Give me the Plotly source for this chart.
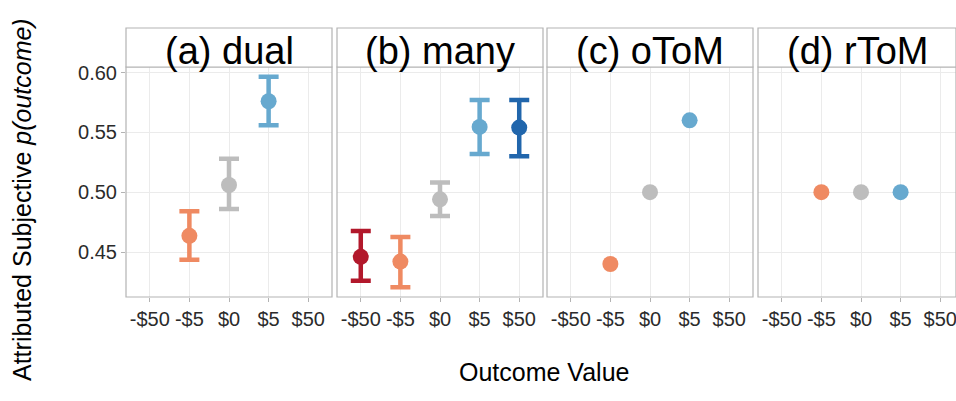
import plotly.graph_objects as go

categories = ["-$50", "-$5", "$0", "$5", "$50"]
cat_colors = {"-$50": "#B2182B", "-$5": "#EF8A62", "$0": "#BDBDBD", "$5": "#67A9CF", "$50": "#2166AC"}

panel_titles = ["(a) dual", "(b) many", "(c) oToM", "(d) rToM"]

dual_x = ["-$5", "$0", "$5"]
dual_y = [0.4635, 0.5060, 0.5760]
dual_lo = [0.4435, 0.4860, 0.5560]
dual_hi = [0.4840, 0.5280, 0.5965]

many_x = ["-$50", "-$5", "$0", "$5", "$50"]
many_y = [0.4460, 0.4420, 0.4940, 0.5545, 0.5540]
many_lo = [0.4260, 0.4205, 0.4800, 0.5320, 0.5300]
many_hi = [0.4675, 0.4625, 0.5080, 0.5770, 0.5770]

otom_x = ["-$5", "$0", "$5"]
otom_y = [0.44, 0.50, 0.56]

rtom_x = ["-$5", "$0", "$5"]
rtom_y = [0.50, 0.50, 0.50]

y_ticks = [0.45, 0.50, 0.55, 0.60]
y_ticktext = ["0.45", "0.50", "0.55", "0.60"]

FONT = "Liberation Sans, Arial, sans-serif"
W, H = 956, 401
ML, MT, MB = 126, 67, 104
PW = W - ML
PH = H - MT - MB

# panel pixel bounds relative to plot-area left edge
panels_px = [(0, 206), (211, 417), (421, 627), (632, 830)]
unit = 206 / 5.2

fig = go.Figure()

def add_series(idx, xs, ys, lo=None, hi=None):
    ax = "" if idx == 0 else str(idx + 1)
    for i, (x, y) in enumerate(zip(xs, ys)):
        c = cat_colors[x]
        err = None
        if lo is not None:
            err = dict(type="data", symmetric=False, array=[hi[i] - y], arrayminus=[y - lo[i]],
                       color=c, thickness=4.5, width=10)
        fig.add_trace(go.Scatter(x=[x], y=[y], mode="markers",
                                 marker=dict(size=16, color=c, line=dict(width=0)),
                                 error_y=err, showlegend=False,
                                 xaxis="x" + ax, yaxis="y" + ax, cliponaxis=False))

add_series(0, dual_x, dual_y, dual_lo, dual_hi)
add_series(1, many_x, many_y, many_lo, many_hi)
add_series(2, otom_x, otom_y)
add_series(3, rtom_x, rtom_y)

yr = [0.4124, 0.6046]
border = "#B3B3B3"
grid = "#EBEBEB"
layout = dict(width=W, height=H, margin=dict(l=ML, r=0, t=MT, b=MB),
              paper_bgcolor="white", plot_bgcolor="white", showlegend=False,
              font=dict(family=FONT, color="#333333"))
shapes = []
annotations = []
for i, (a, b) in enumerate(panels_px):
    ax = "" if i == 0 else str(i + 1)
    xr = [-0.6, -0.6 + (b - a) / unit]
    layout["xaxis" + ax] = dict(domain=[a / PW, b / PW], type="category", categoryorder="array",
                                categoryarray=categories, range=xr, showgrid=True, gridcolor=grid,
                                gridwidth=1, zeroline=False, showline=False, ticks="outside",
                                ticklen=4, tickcolor=border, tickwidth=1,
                                tickfont=dict(size=20, color="#2b2b2b", family=FONT),
                                anchor="y" + ax, fixedrange=True)
    layout["yaxis" + ax] = dict(domain=[0, 1], range=yr, tickvals=y_ticks, ticktext=y_ticktext,
                                showticklabels=(i == 0), showgrid=True, gridcolor=grid, gridwidth=1,
                                zeroline=False, showline=False,
                                ticks="outside" if i == 0 else "", ticklen=4, tickcolor=border,
                                tickfont=dict(size=20, color="#2b2b2b", family=FONT),
                                anchor="x" + ax, fixedrange=True)
    x0, x1 = a / PW, b / PW
    # panel border
    shapes.append(dict(type="rect", xref="paper", yref="paper", x0=x0, x1=x1, y0=0, y1=1,
                       line=dict(color=border, width=1.2), fillcolor="rgba(0,0,0,0)", layer="above"))
    # strip
    shapes.append(dict(type="rect", xref="paper", yref="paper", x0=x0, x1=x1, y0=1, y1=1 + 39 / PH,
                       line=dict(color=border, width=1.2), fillcolor="white", layer="above"))
    annotations.append(dict(text=panel_titles[i], xref="paper", yref="paper", x=(x0 + x1) / 2,
                            y=(297 - 51) / PH, xanchor="center", yanchor="middle", showarrow=False,
                            font=dict(size=38, color="black", family=FONT)))

annotations.append(dict(text="Attributed Subjective <i>p(outcome)</i>", xref="paper", yref="paper",
                        x=-(ML - 22) / PW, y=(297 - 200) / PH, xanchor="center", yanchor="middle",
                        textangle=-90, showarrow=False, font=dict(size=25, color="black", family=FONT)))
annotations.append(dict(text="Outcome Value", xref="paper", yref="paper",
                        x=(544 - ML) / PW, y=-(372 - 297) / PH, xanchor="center", yanchor="middle",
                        showarrow=False, font=dict(size=25, color="black", family=FONT)))

layout["shapes"] = shapes
layout["annotations"] = annotations
fig.update_layout(**layout)
fig.write_html("out.html", config={"displayModeBar": False},
               post_script="document.body.style.margin='0';document.body.style.overflow='hidden';")
